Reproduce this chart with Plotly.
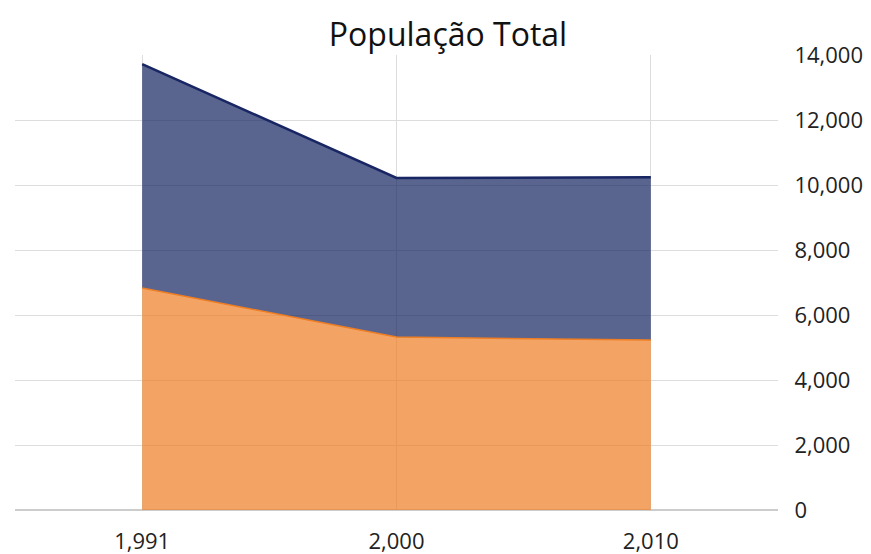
import plotly.graph_objects as go

anos = ["1,991", "2,000", "2,010"]
serie_laranja = [6830, 5320, 5230]
serie_azul = [6890, 4895, 5005]
y_ticks = [0, 2000, 4000, 6000, 8000, 10000, 12000, 14000]

fig = go.Figure()
fig.add_trace(go.Scatter(
    x=anos, y=serie_laranja, mode="lines", stackgroup="one",
    line=dict(color="rgb(238,125,35)", width=1.5),
    fillcolor="rgba(238,125,35,0.7)", name="A"))
fig.add_trace(go.Scatter(
    x=anos, y=serie_azul, mode="lines", stackgroup="one",
    line=dict(color="rgb(25,38,100)", width=2.5),
    fillcolor="rgba(19,36,96,0.7)", name="B"))

fig.update_layout(
    width=863, height=546,
    margin=dict(l=7, r=93, t=47, b=44, autoexpand=False),
    paper_bgcolor="white", plot_bgcolor="white",
    showlegend=False,
    font=dict(family="Open Sans", color="#222"),
    title=dict(text="População Total", x=440/863, xanchor="center",
               y=1 - 27/546, yanchor="middle", font=dict(size=32, color="#111")),
)
fig.update_xaxes(type="category", range=[-0.5, 2.5], showgrid=True, automargin=False,
                 gridcolor="#dddddd", gridwidth=1, showline=False, zeroline=False,
                 tickfont=dict(size=22, color="#222"), ticks="outside", ticklen=12,
                 tickcolor="rgba(0,0,0,0)")
fig.update_yaxes(side="right", range=[0, 14000], tickvals=y_ticks, tickformat=",",
                 showgrid=True, gridcolor="#dddddd", gridwidth=1, automargin=False,
                 zeroline=True, zerolinecolor="#cccccc", zerolinewidth=2,
                 tickfont=dict(size=22, color="#222"), ticks="outside",
                 ticklen=11, tickcolor="rgba(0,0,0,0)")

fig.write_html("out.html")
